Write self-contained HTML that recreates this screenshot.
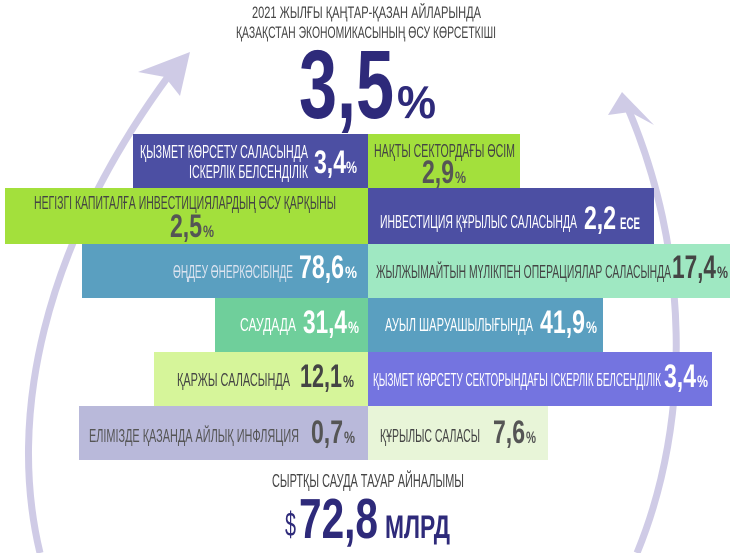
<!DOCTYPE html>
<html><head><meta charset="utf-8"><style>
body{margin:0;width:732px;height:553px;background:#fff;overflow:hidden}
svg text{font-family:"Liberation Sans",sans-serif}
.l{font-size:18px}
.n{font-size:32px;font-weight:bold}
.p{font-size:17px;font-weight:bold}
</style></head><body>
<svg width="732" height="553" style="position:absolute;left:0;top:0" >
<path d="M40,553 C8,420 40,250 170,74" fill="none" stroke="#cfcbe6" stroke-width="7"/>
<polygon points="190,52 138,72 165,77 180,96" fill="#cfcbe6"/>
<path d="M637,553 C692,420 690,250 626,104" fill="none" stroke="#cfcbe6" stroke-width="7"/>
<polygon points="622,92 608,115 630,112 654,125" fill="#cfcbe6"/>

<rect x="133" y="134" width="235" height="54" fill="#4c4fa3"/>
<rect x="368" y="134" width="152" height="54" fill="#a3e03c"/>
<rect x="5" y="188" width="363" height="56" fill="#a3e03c"/>
<rect x="368" y="188" width="286" height="56" fill="#4c4fa3"/>
<rect x="82" y="244" width="286" height="54" fill="#5a9fc0"/>
<rect x="368" y="244" width="362" height="54" fill="#9fe8c2"/>
<rect x="215" y="298" width="153" height="54" fill="#6fcf9b"/>
<rect x="368" y="298" width="235" height="54" fill="#5a9fc0"/>
<rect x="154" y="352" width="214" height="54" fill="#d6f59a"/>
<rect x="368" y="352" width="344" height="54" fill="#7474e0"/>
<rect x="79" y="406" width="289" height="54" fill="#b9b9da"/>
<rect x="368" y="406" width="180" height="54" fill="#e8f5d8"/>

<g fill="#444">
<text x="252" y="18" font-size="17" textLength="229" lengthAdjust="spacingAndGlyphs">2021 ЖЫЛҒЫ ҚАҢТАР-ҚАЗАН АЙЛАРЫНДА</text>
<text x="236" y="38" font-size="17" textLength="260" lengthAdjust="spacingAndGlyphs">ҚАЗАҚСТАН ЭКОНОМИКАСЫНЫҢ ӨСУ КӨРСЕТКІШІ</text>
</g>
<text x="299" y="118" font-size="97" font-weight="bold" fill="#2e2a7a" textLength="95" lengthAdjust="spacingAndGlyphs">3,5</text>
<text x="397" y="118" font-size="46" font-weight="bold" fill="#2e2a7a" textLength="39" lengthAdjust="spacingAndGlyphs">%</text>

<!-- row1 -->
<text class="l" x="140" y="158" fill="#fff" textLength="168" lengthAdjust="spacingAndGlyphs">ҚЫЗМЕТ КӨРСЕТУ САЛАСЫНДА</text>
<text class="l" x="189" y="178" fill="#fff" textLength="119" lengthAdjust="spacingAndGlyphs">ІСКЕРЛІК БЕЛСЕНДІЛІК</text>
<text class="n" x="314" y="173" fill="#fff" textLength="32" lengthAdjust="spacingAndGlyphs">3,4</text>
<text class="p" x="346" y="173" fill="#fff" textLength="11" lengthAdjust="spacingAndGlyphs">%</text>
<text class="l" x="374" y="157" fill="#444" textLength="141" lengthAdjust="spacingAndGlyphs">НАҚТЫ СЕКТОРДАҒЫ ӨСІМ</text>
<text class="n" x="422" y="183" fill="#555" textLength="32" lengthAdjust="spacingAndGlyphs">2,9</text>
<text class="p" x="455" y="183" fill="#555" textLength="11" lengthAdjust="spacingAndGlyphs">%</text>
<!-- row2 -->
<text class="l" x="34" y="209" fill="#444" textLength="302" lengthAdjust="spacingAndGlyphs">НЕГІЗГІ КАПИТАЛҒА ИНВЕСТИЦИЯЛАРДЫҢ ӨСУ ҚАРҚЫНЫ</text>
<text class="n" x="170" y="237" fill="#555" textLength="32" lengthAdjust="spacingAndGlyphs">2,5</text>
<text class="p" x="203" y="237" fill="#555" textLength="11" lengthAdjust="spacingAndGlyphs">%</text>
<text class="l" x="380" y="228" fill="#fff" textLength="197" lengthAdjust="spacingAndGlyphs">ИНВЕСТИЦИЯ ҚҰРЫЛЫС САЛАСЫНДА</text>
<text class="n" x="584" y="229" fill="#fff" textLength="32" lengthAdjust="spacingAndGlyphs">2,2</text>
<text class="p" x="620" y="229" fill="#fff" textLength="20" lengthAdjust="spacingAndGlyphs">ЕСЕ</text>
<!-- row3 -->
<text class="l" x="173" y="278" fill="#dde4f0" textLength="120" lengthAdjust="spacingAndGlyphs">ӨҢДЕУ ӨНЕРКӘСІБІНДЕ</text>
<text class="n" x="299" y="278" fill="#fff" textLength="45" lengthAdjust="spacingAndGlyphs">78,6</text>
<text class="p" x="345" y="278" fill="#fff" textLength="12" lengthAdjust="spacingAndGlyphs">%</text>
<text class="l" x="376" y="278" fill="#444" textLength="295" lengthAdjust="spacingAndGlyphs">ЖЫЛЖЫМАЙТЫН МҮЛІКПЕН ОПЕРАЦИЯЛАР САЛАСЫНДА</text>
<text class="n" x="672" y="278" fill="#444" textLength="44" lengthAdjust="spacingAndGlyphs">17,4</text>
<text class="p" x="717" y="278" fill="#444" textLength="11" lengthAdjust="spacingAndGlyphs">%</text>
<!-- row4 -->
<text class="l" x="240" y="331" fill="#fff" textLength="56" lengthAdjust="spacingAndGlyphs">САУДАДА</text>
<text class="n" x="303" y="333" fill="#fff" textLength="44" lengthAdjust="spacingAndGlyphs">31,4</text>
<text class="p" x="348" y="333" fill="#fff" textLength="11" lengthAdjust="spacingAndGlyphs">%</text>
<text class="l" x="385" y="331" fill="#fff" textLength="148" lengthAdjust="spacingAndGlyphs">АУЫЛ ШАРУАШЫЛЫҒЫНДА</text>
<text class="n" x="540" y="333" fill="#fff" textLength="45" lengthAdjust="spacingAndGlyphs">41,9</text>
<text class="p" x="586" y="333" fill="#fff" textLength="11" lengthAdjust="spacingAndGlyphs">%</text>
<!-- row5 -->
<text class="l" x="177" y="386" fill="#444" textLength="113" lengthAdjust="spacingAndGlyphs">ҚАРЖЫ САЛАСЫНДА</text>
<text class="n" x="300" y="387" fill="#444" textLength="42" lengthAdjust="spacingAndGlyphs">12,1</text>
<text class="p" x="343" y="387" fill="#444" textLength="11" lengthAdjust="spacingAndGlyphs">%</text>
<text class="l" x="373" y="386" fill="#fff" textLength="288" lengthAdjust="spacingAndGlyphs">ҚЫЗМЕТ КӨРСЕТУ СЕКТОРЫНДАҒЫ ІСКЕРЛІК БЕЛСЕНДІЛІК</text>
<text class="n" x="664" y="387" fill="#fff" textLength="32" lengthAdjust="spacingAndGlyphs">3,4</text>
<text class="p" x="697" y="387" fill="#fff" textLength="11" lengthAdjust="spacingAndGlyphs">%</text>
<!-- row6 -->
<text class="l" x="89" y="442" fill="#555" textLength="210" lengthAdjust="spacingAndGlyphs">ЕЛІМІЗДЕ ҚАЗАНДА АЙЛЫҚ ИНФЛЯЦИЯ</text>
<text class="n" x="311" y="443" fill="#555" textLength="32" lengthAdjust="spacingAndGlyphs">0,7</text>
<text class="p" x="344" y="443" fill="#555" textLength="11" lengthAdjust="spacingAndGlyphs">%</text>
<text class="l" x="380" y="442" fill="#444" textLength="100" lengthAdjust="spacingAndGlyphs">ҚҰРЫЛЫС САЛАСЫ</text>
<text class="n" x="493" y="443" fill="#555" textLength="32" lengthAdjust="spacingAndGlyphs">7,6</text>
<text class="p" x="526" y="443" fill="#555" textLength="10" lengthAdjust="spacingAndGlyphs">%</text>
<!-- bottom -->
<text x="272" y="487" font-size="18" fill="#444" textLength="192" lengthAdjust="spacingAndGlyphs">СЫРТҚЫ САУДА ТАУАР АЙНАЛЫМЫ</text>
<text x="285" y="536" font-size="34" fill="#2e2a7a" textLength="11" lengthAdjust="spacingAndGlyphs">$</text>
<text x="299" y="538" font-size="57" font-weight="bold" fill="#2e2a7a" textLength="79" lengthAdjust="spacingAndGlyphs">72,8</text>
<text x="385" y="538" font-size="32" font-weight="bold" fill="#2e2a7a" textLength="65" lengthAdjust="spacingAndGlyphs">МЛРД</text>
</svg>
</body></html>
